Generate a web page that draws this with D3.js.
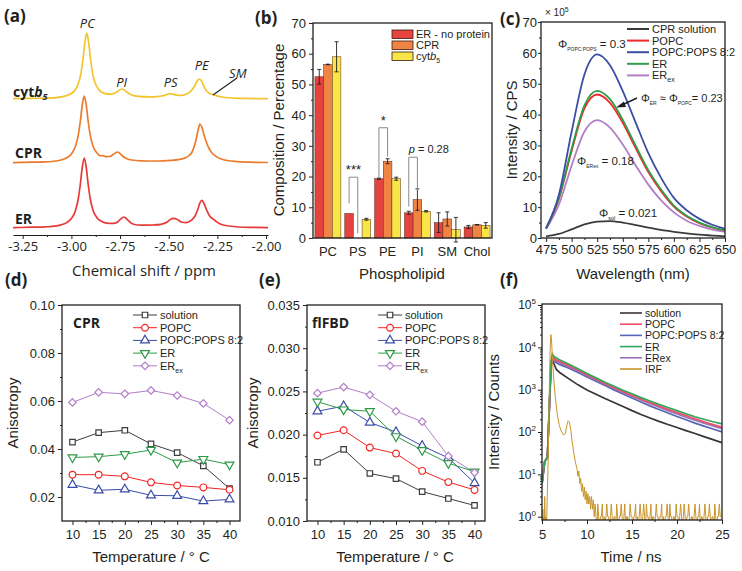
<!DOCTYPE html>
<html><head><meta charset="utf-8">
<script src="https://cdn.jsdelivr.net/npm/d3@7"></script>
<style>body{margin:0;background:#fff}svg{display:block}</style>
</head><body>
<svg id="chart" width="742" height="571"></svg>
<script>
// ---------------- DATA ----------------
// (a) 31P NMR spectra, [ppm, intensity]
const nmrER = [[-3.30,0.4],[-3.20,0.8],[-3.134,1.2],[-3.064,2.7],[-3.024,5.4],[-2.999,9.7],[-2.979,17.5],[-2.964,30],[-2.954,44],[-2.944,61],[-2.934,70],[-2.924,61],[-2.914,44],[-2.904,30],[-2.889,17.8],[-2.869,10.3],[-2.844,6.5],[-2.81,4.6],[-2.785,4.6],[-2.765,5.8],[-2.75,8.3],[-2.73,11],[-2.71,7.9],[-2.69,4.5],[-2.66,3.0],[-2.62,2.8],[-2.58,3.0],[-2.54,3.7],[-2.51,5.7],[-2.49,8.8],[-2.474,9.6],[-2.455,8.4],[-2.435,6.0],[-2.41,5.4],[-2.385,7.6],[-2.365,12],[-2.35,19],[-2.34,25],[-2.33,27.6],[-2.32,25],[-2.305,17.8],[-2.29,12],[-2.27,8.6],[-2.25,5.6],[-2.225,3.2],[-2.19,2.0],[-2.14,1.0],[-2.07,0.6],[-1.99,0.4]];
const nmrCPR = [[-3.30,0.4],[-3.20,0.8],[-3.134,1.1],[-3.064,2.5],[-3.024,5.2],[-2.999,9.2],[-2.979,16.8],[-2.964,28.7],[-2.954,42],[-2.944,58.4],[-2.934,67],[-2.924,58.4],[-2.914,42],[-2.904,28.7],[-2.889,17],[-2.869,10],[-2.85,7.2],[-2.836,7.3],[-2.822,6.3],[-2.805,6.5],[-2.785,8.5],[-2.772,10.3],[-2.764,11],[-2.752,9.8],[-2.735,6.5],[-2.715,4.3],[-2.69,3.0],[-2.64,2.2],[-2.58,2.0],[-2.53,2.2],[-2.49,2.6],[-2.45,3.4],[-2.42,4.8],[-2.395,7.5],[-2.38,11],[-2.37,16],[-2.36,23],[-2.35,32],[-2.34,39],[-2.33,36],[-2.32,29],[-2.305,20],[-2.29,13.5],[-2.275,9.5],[-2.255,6.4],[-2.23,4],[-2.2,2.5],[-2.15,1.4],[-2.08,0.8],[-1.99,0.5]];
const nmrCytb5 = [[-3.30,0.3],[-3.20,0.7],[-3.121,0.9],[-3.051,2.2],[-3.011,4.4],[-2.986,7.9],[-2.966,14.5],[-2.951,25.7],[-2.941,39],[-2.931,56],[-2.921,66],[-2.911,56],[-2.901,39],[-2.891,25.7],[-2.876,15],[-2.856,8.6],[-2.83,5.6],[-2.805,4.8],[-2.785,5.4],[-2.765,7.3],[-2.75,9.3],[-2.739,10],[-2.727,8.9],[-2.71,6.2],[-2.69,4],[-2.655,2.6],[-2.6,2.1],[-2.56,2.3],[-2.53,3.2],[-2.51,4.5],[-2.495,5.3],[-2.48,4.9],[-2.46,3.9],[-2.435,3.6],[-2.405,5.3],[-2.385,8.2],[-2.37,12],[-2.357,17],[-2.342,20],[-2.33,17.5],[-2.318,12],[-2.305,8],[-2.29,5.6],[-2.275,4.5],[-2.26,3.6],[-2.24,2.5],[-2.21,1.5],[-2.16,0.9],[-2.1,0.6],[-2.04,0.4],[-1.99,0.3]];
const nmrNames = ["ER","CPR","cytb5"];
const nmrStackOffsets = [7, 72, 136];
const nmrTicks = [-3.25,-3.00,-2.75,-2.50,-2.25,-2.00];
const nmrMinorTicks = [-3.125,-2.875,-2.625,-2.375,-2.125];

// (b) lipid composition (%)
const lipidCats = ["PC","PS","PE","PI","SM","Chol"];
const lipidSeries = ["ER - no protein","CPR","cytb5"];
const lipidER  = [52.5, 8.0, 19.3, 8.2, 5.0, 3.6];
const lipidCPR = [56.5, 0.0, 25.0, 12.5, 6.2, 4.3];
const lipidCyt = [59.0, 6.1, 19.3, 8.7, 2.7, 4.1];
const lipidErrER  = [2.4, 0, 0.2, 0.5, 3.2, 0.5];
const lipidErrCPR = [0.1, 0, 0.8, 3.5, 2.3, 0.1];
const lipidErrCyt = [4.9, 0.3, 0.5, 0.2, 4.0, 0.9];
const lipidTicks = [0,10,20,30,40,50,60,70];
// significance brackets: category, top level, left/right leg ends, label
const sigCats = ["PS","PE","PI"];
const sigTop = [19.8, 35.9, 26.3];
const sigLeftEnd = [11.3, 19.4, 10.2];
const sigRightEnd = [1.5, 26.5, 15.6];
const sigLabels = ["***","*","p = 0.28"];

// (c) emission spectra (x 10^5 CPS)
const wavelengths = [475,487.5,500,512.5,525,537.5,550,562.5,575,587.5,600,612.5,625,637.5,650];
const emSolution = [0.5,1.3,2.8,4.4,5.3,5.5,5.0,4.2,3.4,2.6,2.0,1.5,1.1,0.8,0.5];
const emPOPC     = [3.2,12.7,28.3,42.0,46.5,43.8,37.3,29.2,21.4,15.2,10.2,7.0,4.8,3.4,2.4];
const emPOPS     = [3.0,14.0,34.5,53.0,59.5,56.0,47.6,37.5,27.5,19.5,13.0,9.0,6.2,4.3,3.0];
const emER       = [3.2,13.0,29.0,43.0,47.7,45.0,38.3,30.0,22.0,15.7,10.5,7.2,5.0,3.5,2.5];
const emERex     = [3.0,10.8,23.5,34.5,38.2,35.8,30.3,23.6,17.3,12.2,8.3,5.6,3.9,2.7,2.0];
const emNames = ["CPR solution","POPC","POPC:POPS 8:2","ER","ERex"];
const emTicksX = [475,500,525,550,575,600,625,650];
const emTicksY = [0,10,20,30,40,50,60,70];

// (d) CPR anisotropy, (e) flFBD anisotropy
const temps = [10,15,20,25,30,35,40];
const cprSolution = [0.0429,0.0468,0.0478,0.0421,0.0385,0.0330,0.0235];
const cprPOPC     = [0.0293,0.0293,0.0286,0.0261,0.0248,0.0240,0.0230];
const cprPOPS     = [0.0251,0.0228,0.0232,0.0207,0.0205,0.0183,0.0190];
const cprER       = [0.0365,0.0368,0.0378,0.0396,0.0343,0.0358,0.0335];
const cprERex     = [0.0594,0.0636,0.0630,0.0644,0.0623,0.0590,0.0520];
const fbdSolution = [0.0168,0.0183,0.0155,0.0149,0.0134,0.0126,0.0118];
const fbdPOPC     = [0.0199,0.0205,0.0185,0.0178,0.0158,0.0145,0.0136];
const fbdPOPS     = [0.0227,0.0233,0.0214,0.0203,0.0187,0.0173,0.0144];
const fbdER       = [0.0238,0.0229,0.0227,0.0198,0.0182,0.0167,0.0157];
const fbdERex     = [0.0248,0.0255,0.0246,0.0227,0.0215,0.0175,0.0156];
const anisoNames = ["solution","POPC","POPC:POPS 8:2","ER","ERex"];
const tempTicks = [10,15,20,25,30,35,40];
const cprTicksY = [0.02,0.04,0.06,0.08,0.10];
const fbdTicksY = [0.010,0.015,0.020,0.025,0.030,0.035];

// (f) fluorescence decays (counts)
const decayTime = [5.0,5.3,5.6,5.85,6.0,6.15,6.3,6.6,7,8,9,10,11,12,13,14,15,16,17,18,19,20,21,22,23,24,25];
const decSolution = [6,20,25,600,3500,6000,4200,3000,2500,1800,1300,980,780,620,500,400,320,260,215,178,150,128,108,92,78,66,56];
const decPOPC     = [6,20,25,650,4000,6000,5500,5000,4600,3700,2900,2250,1780,1400,1120,900,735,600,495,410,345,290,245,205,175,150,130];
const decPOPS     = [6,20,25,500,3500,5000,4700,4300,3900,3200,2550,2000,1580,1250,990,790,635,510,415,340,280,232,195,162,138,118,100];
const decER       = [6,20,25,700,4500,7000,6200,5600,5000,4000,3100,2400,1900,1500,1200,970,800,650,540,450,380,320,270,230,200,175,155];
const decERex     = [6,20,25,600,3800,5500,5100,4700,4300,3500,2750,2150,1700,1350,1070,860,700,570,470,385,320,268,225,190,162,140,120];
const irfTime = [5.0,5.05,5.1,5.15,5.2,5.25,5.3,5.35,5.4,5.45,5.5,5.55,5.6,5.7,5.8,5.9,5.98,6.05,6.15,6.3,6.5,6.7,6.9,7.1,7.3,7.45,7.6,7.75,7.9,8.05,8.2,8.35,8.5,8.7,8.9,9.0,9.1,9.2,9.3,9.4,9.5,9.6,9.7,9.8,9.9,10.0,10.1,10.2,10.3,10.4,10.5,10.6,10.7,10.8,10.9];
const irfCounts = [1,0.5,1.5,0.5,1,0.5,3,1,0.5,1,0.5,1.5,4,30,700,8000,20000,16000,6000,1800,600,260,150,110,90,85,95,140,185,170,110,60,35,20,13,9,12,6,8,4,6,3,5,2.5,4,2,3.5,2,3,1.5,3,1.5,2.5,1,2];
const irfTailStart = 11.0, irfTailChannel = 0.1;
const irfTailCounts = [1,0.5,2,1,0.5,1,1,2,0.5,1, 0.5,1,2,1,1,0.5,1,2,1,0.5, 1,1,0.5,2,1,0.5,1,1,2,1, 0.5,1,2,0.5,1,1,0.5,1,2,1, 1,0.5,1,1,2,0.5,1,0.5,1,2, 1,0.5,1,2,1,0.5,2,1,1,0.5, 1,2,0.5,1,1,0.5,1,2,1,1, 0.5,1,1,2,0.5,1,0.5,1,1,2, 1,0.5,2,1,1,0.5,1,1,0.5,2, 1,1,0.5,1,2,1,0.5,1,2,1, 0.5,1,1,2,1,0.5,1,1,0.5,1, 2,1,0.5,1,1,2,0.5,1,1,0.5, 1,2,1,0.5,1,1,2,1,0.5,1, 1,0.5,2,1,0.5,1,1,2,1,1];
const decayNames = ["solution","POPC","POPC:POPS 8:2","ER","ERex","IRF"];
const decayTicksX = [5,10,15,20,25];
const decayTicksY = [1,10,100,1000,10000,100000];

// ---------------- DRAWING ----------------
const svg = d3.select("#chart");
const F = "'Liberation Sans', Arial, sans-serif";
const FO = "'Open Sans', 'Liberation Sans', sans-serif";
const INK = "#231f20";

function styleAxis(sel, fs, font) {
  sel.select(".domain").remove();
  sel.selectAll(".tick line").attr("stroke", INK).attr("stroke-width", 1);
  sel.selectAll(".tick text").attr("font-family", font || F).attr("font-size", fs).attr("fill", INK);
}
function frame(g, x0, y0, x1, y1) {
  g.append("rect").attr("x", x0).attr("y", y0).attr("width", x1 - x0).attr("height", y1 - y0)
    .attr("fill", "none").attr("stroke", INK).attr("stroke-width", 1.3);
}
function label(g, x, y, txt, o = {}) {
  const t = g.append("text").attr("x", x).attr("y", y).text(txt)
    .attr("font-family", o.font || F).attr("font-size", o.size || 13).attr("fill", o.fill || INK)
    .attr("text-anchor", o.anchor || "start");
  if (o.weight) t.attr("font-weight", o.weight);
  if (o.style) t.attr("font-style", o.style);
  if (o.rotate) t.attr("transform", `rotate(${o.rotate},${x},${y})`);
  return t;
}
function panelLabel(x, y, s) { label(svg, x, y, s, {font: FO, size: 17, weight: "bold"}); }
function clip(id, x0, y0, x1, y1) {
  svg.append("clipPath").attr("id", id).append("rect").attr("x", x0).attr("y", y0).attr("width", x1 - x0).attr("height", y1 - y0);
}

// ===== (a) =====
const gA = svg.append("g");
const xA = d3.scaleLinear().domain([-3.30, -1.99]).range([13, 268]);
const yA = d3.scaleLinear().domain([0, 230]).range([235, 5]);
const nmrColors = ["#e63b3a", "#eb7c2e", "#f3c42c"];
[nmrER, nmrCPR, nmrCytb5].forEach((arr, i) => {
  const off = nmrStackOffsets[i];
  gA.append("path").datum(arr).attr("fill", "none").attr("stroke", nmrColors[i]).attr("stroke-width", 1.7)
    .attr("d", d3.line().x(d => xA(d[0])).y(d => yA(d[1] + off)).curve(d3.curveMonotoneX));
});
const axA = gA.append("g").attr("transform", "translate(0,235)")
  .call(d3.axisBottom(xA).tickValues(nmrTicks).tickFormat(d => d.toFixed(2)).tickSize(4).tickSizeOuter(0).tickPadding(3));
axA.select(".domain").attr("stroke", INK).attr("stroke-width", 1.2);
axA.selectAll(".tick line").attr("stroke", INK);
axA.selectAll(".tick text").attr("font-family", FO).attr("font-size", 13).attr("fill", INK);
gA.append("g").attr("transform", "translate(0,235)")
  .call(d3.axisBottom(xA).tickValues(nmrMinorTicks).tickFormat("").tickSize(2).tickSizeOuter(0))
  .call(s => { s.select(".domain").remove(); s.selectAll("line").attr("stroke", INK); });
label(gA, 144, 276, "Chemical shift / ppm", {font: FO, size: 15, anchor: "middle"});
// trace names
const cyt = label(gA, 13, 97, "cyt", {font: FO, size: 14, weight: "bold"});
cyt.append("tspan").attr("font-style", "italic").text("b");
cyt.append("tspan").attr("font-style", "italic").attr("font-size", 9).attr("dy", 3).text("5");
label(gA, 15, 158, "CPR", {font: FO, size: 14, weight: "bold"});
label(gA, 15, 224, "ER", {font: FO, size: 14, weight: "bold"});
// peak labels
[["PC", -2.918, 207], ["PI", -2.742, 148], ["PS", -2.49, 148], ["PE", -2.33, 165], ["SM", -2.145, 157]].forEach(p => {
  label(gA, xA(p[1]), yA(p[2]), p[0], {font: FO, size: 13, style: "italic", anchor: "middle"});
});
gA.append("line").attr("x1", 213).attr("y1", 95).attr("x2", 237).attr("y2", 78).attr("stroke", INK).attr("stroke-width", 1.1);
panelLabel(4, 22, "(a)");

// ===== (b) =====
const gB = svg.append("g");
const xB = d3.scaleBand().domain(lipidCats).range([313, 492]).paddingInner(0.13).paddingOuter(0.065);
const xBs = d3.scaleBand().domain([0, 1, 2]).range([0, xB.bandwidth()]);
const yB = d3.scaleLinear().domain([0, 70]).range([238, 23]);
const lipidColors = ["#e5433f", "#ef8444", "#f8e548"];
const lipidVals = [lipidER, lipidCPR, lipidCyt];
const lipidErrs = [lipidErrER, lipidErrCPR, lipidErrCyt];
lipidVals.forEach((vals, s) => {
  lipidCats.forEach((c, i) => {
    if (vals[i] <= 0) return;
    gB.append("rect").attr("x", xB(c) + xBs(s)).attr("y", yB(vals[i])).attr("width", xBs.bandwidth())
      .attr("height", yB(0) - yB(vals[i])).attr("fill", lipidColors[s]).attr("stroke", "#5a2a1a").attr("stroke-width", 0.5);
  });
});
lipidVals.forEach((vals, s) => {
  lipidCats.forEach((c, i) => {
    const e = lipidErrs[s][i];
    if (vals[i] <= 0 || e <= 0) return;
    const cx = xB(c) + xBs(s) + xBs.bandwidth() / 2;
    const g = gB.append("g").attr("stroke", INK).attr("stroke-width", 0.9);
    g.append("line").attr("x1", cx).attr("x2", cx).attr("y1", yB(vals[i] - e)).attr("y2", yB(vals[i] + e));
    g.append("line").attr("x1", cx - 2).attr("x2", cx + 2).attr("y1", yB(vals[i] - e)).attr("y2", yB(vals[i] - e));
    g.append("line").attr("x1", cx - 2).attr("x2", cx + 2).attr("y1", yB(vals[i] + e)).attr("y2", yB(vals[i] + e));
  });
});
sigCats.forEach((c, k) => {
  const xl = xB(c) + xBs(0) + xBs.bandwidth() / 2;
  const xr = xB(c) + xBs(1) + xBs.bandwidth() / 2;
  gB.append("path").attr("fill", "none").attr("stroke", "#8a8a8a").attr("stroke-width", 1)
    .attr("d", `M${xl},${yB(sigLeftEnd[k])}V${yB(sigTop[k])}H${xr}V${yB(sigRightEnd[k])}`);
  if (k < 2) {
    label(gB, (xl + xr) / 2, yB(sigTop[k]) - 3, sigLabels[k], {size: 13, anchor: "middle"});
  } else {
    const t = label(gB, xl, yB(sigTop[k]) - 4, "", {size: 11});
    t.append("tspan").attr("font-style", "italic").text("p");
    t.append("tspan").text(" = 0.28");
  }
});
frame(gB, 313, 23, 492, 238);
gB.append("g").attr("transform", "translate(313,0)").call(d3.axisLeft(yB).tickValues(lipidTicks).tickSize(4).tickPadding(3)).call(s => styleAxis(s, 13));
gB.append("g").attr("transform", "translate(313,0)").call(d3.axisLeft(yB).tickValues([5,15,25,35,45,55,65]).tickFormat("").tickSize(2)).call(s => styleAxis(s, 13));
gB.append("g").attr("transform", "translate(0,238)").call(d3.axisBottom(xB).tickSize(0).tickPadding(9)).call(s => styleAxis(s, 13));
label(gB, 284, 130, "Composition / Percentage", {size: 15, anchor: "middle", rotate: -90});
label(gB, 402, 279, "Phospholipid", {size: 15, anchor: "middle"});
lipidSeries.forEach((n, s) => {
  const y = 30 + s * 11;
  gB.append("rect").attr("x", 392).attr("y", y).attr("width", 21).attr("height", 8.5).attr("fill", lipidColors[s]).attr("stroke", "#3a1a10").attr("stroke-width", 0.8);
  if (n === "cytb5") {
    const t = label(gB, 416, y + 8, "cyt", {size: 11});
    t.append("tspan").attr("font-style", "italic").text("b");
    t.append("tspan").attr("font-size", 7).attr("dy", 2.5).text("5");
  } else label(gB, 416, y + 8, n, {size: 11});
});
panelLabel(255, 24, "(b)");

// ===== (c) =====
const gC = svg.append("g");
clip("clipC", 541, 22, 725, 238);
const xC = d3.scaleLinear().domain([470, 650]).range([541, 725]);
const yC = d3.scaleLinear().domain([0, 70]).range([238, 22]);
const emColors = ["#3b3b3b", "#f02a2a", "#3a4fa3", "#2f9d4a", "#b07fc7"];
const emSeries = [emSolution, emPOPC, emPOPS, emER, emERex];
const lineC = d3.line().x((d, i) => xC(wavelengths[i])).y(d => yC(d)).curve(d3.curveMonotoneX);
[0, 4, 1, 3, 2].forEach(i => {
  gC.append("path").datum(emSeries[i]).attr("clip-path", "url(#clipC)").attr("fill", "none")
    .attr("stroke", emColors[i]).attr("stroke-width", 1.8).attr("d", lineC);
});
frame(gC, 541, 22, 725, 238);
gC.append("g").attr("transform", "translate(541,0)").call(d3.axisLeft(yC).tickValues(emTicksY).tickSize(3).tickPadding(1)).call(s => styleAxis(s, 13));
gC.append("g").attr("transform", "translate(541,0)").call(d3.axisLeft(yC).tickValues([5,15,25,35,45,55,65]).tickFormat("").tickSize(2)).call(s => styleAxis(s, 13));
gC.append("g").attr("transform", "translate(0,238)").call(d3.axisBottom(xC).tickValues(emTicksX).tickSize(4).tickPadding(3)).call(s => styleAxis(s, 13));
gC.append("g").attr("transform", "translate(0,238)").call(d3.axisBottom(xC).tickValues([487.5,512.5,537.5,562.5,587.5,612.5,637.5]).tickFormat("").tickSize(2)).call(s => styleAxis(s, 13));
label(gC, 517, 130, "Intensity / CPS", {size: 15, anchor: "middle", rotate: -90});
label(gC, 633, 279, "Wavelength (nm)", {size: 15, anchor: "middle"});
const mult = label(gC, 545, 16, "× 10", {size: 10});
mult.append("tspan").attr("font-size", 7).attr("dy", -4).text("5");
emNames.forEach((n, i) => {
  const y = 29 + i * 11.6;
  gC.append("line").attr("x1", 627).attr("x2", 649).attr("y1", y).attr("y2", y).attr("stroke", emColors[i]).attr("stroke-width", 2);
  if (n === "ERex") {
    const t = label(gC, 652, y + 4, "ER", {size: 11});
    t.append("tspan").attr("font-size", 7).attr("dy", 3).text("ex");
  } else label(gC, 652, y + 4, n, {size: 11});
});
function phi(g, x, y, parts, fs, ss) {
  const t = label(g, x, y, "", {size: fs});
  parts.forEach(p => {
    if (p[1] === "sub") t.append("tspan").attr("font-size", ss).attr("dy", 3).text(p[0]);
    else if (p[1] === "up") t.append("tspan").attr("dy", -3).text(p[0]);
    else t.append("tspan").text(p[0]);
  });
}
phi(gC, 558, 48, [["Φ"], ["POPC:POPS", "sub"], [" = 0.3", "up"]], 11.5, 5);
phi(gC, 641, 102, [["Φ"], ["ER", "sub"], [" ≈ Φ", "up"], ["POPC", "sub"], ["= 0.23", "up"]], 11, 5);
phi(gC, 577, 165, [["Φ"], ["ERex", "sub"], [" = 0.18", "up"]], 11.5, 5);
phi(gC, 599, 217, [["Φ"], ["sol", "sub"], [" = 0.021", "up"]], 11.5, 5.5);
gC.append("line").attr("x1", 637).attr("y1", 98).attr("x2", 622).attr("y2", 105).attr("stroke", INK).attr("stroke-width", 1.5);
gC.append("path").attr("d", "M616,107.5 L624,101.5 L626,107 Z").attr("fill", INK);
panelLabel(500, 25, "(c)");

// ===== (d) & (e) =====
const anisoColors = ["#3d3d3d", "#f22424", "#3a4da6", "#2e9a46", "#b27ec9"];
function marker(g, type, x, y, color) {
  let sym, rot = 0, size = 34;
  if (type === 0) { sym = d3.symbolSquare; size = 30; }
  else if (type === 1) { sym = d3.symbolCircle; size = 36; }
  else if (type === 2) { sym = d3.symbolTriangle; size = 34; }
  else if (type === 3) { sym = d3.symbolTriangle; size = 34; rot = 180; }
  else { sym = d3.symbolSquare; size = 28; rot = 45; }
  g.append("path").attr("d", d3.symbol().type(sym).size(size)())
    .attr("transform", `translate(${x},${y}) rotate(${rot})`)
    .attr("fill", "#fff").attr("stroke", color).attr("stroke-width", 1.2);
}
function anisoPanel(x0, x1, domY, ticksY, minorY, series, fmt, tag, titleX, ylabX) {
  const g = svg.append("g");
  const x = d3.scaleLinear().domain([8, 42]).range([x0, x1]);
  const y = d3.scaleLinear().domain(domY).range([521, 305]);
  series.forEach((vals, s) => {
    g.append("path").datum(vals).attr("fill", "none").attr("stroke", anisoColors[s]).attr("stroke-width", 1)
      .attr("d", d3.line().x((d, i) => x(temps[i])).y(d => y(d)));
  });
  series.forEach((vals, s) => vals.forEach((v, i) => marker(g, s, x(temps[i]), y(v), anisoColors[s])));
  frame(g, x0, 305, x1, 521);
  g.append("g").attr("transform", `translate(${x0},0)`).call(d3.axisLeft(y).tickValues(ticksY).tickFormat(fmt).tickSize(4).tickPadding(3)).call(s => styleAxis(s, 13));
  g.append("g").attr("transform", `translate(${x0},0)`).call(d3.axisLeft(y).tickValues(minorY).tickFormat("").tickSize(2)).call(s => styleAxis(s, 13));
  g.append("g").attr("transform", "translate(0,521)").call(d3.axisBottom(x).tickValues(tempTicks).tickSize(4).tickPadding(5)).call(s => styleAxis(s, 13));
  g.append("g").attr("transform", "translate(0,521)").call(d3.axisBottom(x).tickValues([12.5,17.5,22.5,27.5,32.5,37.5]).tickFormat("").tickSize(2)).call(s => styleAxis(s, 13));
  label(g, ylabX, 413, "Anisotropy", {size: 15, anchor: "middle", rotate: -90});
  label(g, titleX, 562, "Temperature / ° C", {size: 15, anchor: "middle"});
  label(g, x0 + tag[1], 328, tag[0], {font: FO, size: 14, weight: "bold"});
  const lx = x0 + 71;
  anisoNames.forEach((n, s) => {
    const yy = 315 + s * 12.7;
    g.append("line").attr("x1", lx).attr("x2", lx + 24).attr("y1", yy).attr("y2", yy).attr("stroke", anisoColors[s]).attr("stroke-width", 1);
    marker(g, s, lx + 12, yy, anisoColors[s]);
    if (n === "ERex") {
      const t = label(g, lx + 27, yy + 4, "ER", {size: 11});
      t.append("tspan").attr("font-size", 7).attr("dy", 3).text("ex");
    } else label(g, lx + 27, yy + 4, n, {size: 11});
  });
}
anisoPanel(62, 240, [0.01, 0.10], cprTicksY, [0.03,0.05,0.07,0.09],
  [cprSolution, cprPOPC, cprPOPS, cprER, cprERex], d3.format(".2f"), ["CPR", 11], 151, 18);
anisoPanel(307, 485, [0.010, 0.035], fbdTicksY, [0.0125,0.0175,0.0225,0.0275,0.0325],
  [fbdSolution, fbdPOPC, fbdPOPS, fbdER, fbdERex], d3.format(".3f"), ["flFBD", 5], 395, 258);
panelLabel(5, 286, "(d)");
panelLabel(259, 286, "(e)");

// ===== (f) =====
const gF = svg.append("g");
clip("clipF", 542, 304, 722, 520);
const xF = d3.scaleLinear().domain([5, 25]).range([542, 722]);
const yF = d3.scaleLog().domain([0.835, 1e5]).range([520, 305]);
const decColors = ["#3a3433", "#f24d68", "#5566b5", "#33a65c", "#9b72b3", "#c9952c"];
const decSeries = [decSolution, decPOPS, decERex, decPOPC, decER];
const decIdx = [0, 2, 4, 1, 3];
const lineF = d3.line().x((d, i) => xF(decayTime[i])).y(d => yF(d));
decSeries.forEach((vals, k) => {
  gF.append("path").datum(vals).attr("clip-path", "url(#clipF)").attr("fill", "none")
    .attr("stroke", decColors[decIdx[k]]).attr("stroke-width", 1.7).attr("d", lineF);
});
const irfPts = irfTime.map((t, i) => [t, irfCounts[i]])
  .concat(irfTailCounts.map((c, i) => [irfTailStart + i * irfTailChannel, c]));
gF.append("path").datum(irfPts).attr("clip-path", "url(#clipF)").attr("fill", "none")
  .attr("stroke", decColors[5]).attr("stroke-width", 1).attr("d", d3.line().x(d => xF(d[0])).y(d => yF(d[1])));
frame(gF, 542, 304, 722, 520);
const axFy = gF.append("g").attr("transform", "translate(542,0)").call(d3.axisLeft(yF).tickValues(decayTicksY).tickSize(4).tickPadding(2)).call(s => styleAxis(s, 12));
axFy.selectAll(".tick text").each(function(d) {
  const t = d3.select(this); t.text("");
  t.append("tspan").text("10");
  t.append("tspan").attr("font-size", 8).attr("dy", -5).text(Math.round(Math.log10(d)));
});
const minorLog = [];
[1, 10, 100, 1000, 10000].forEach(b => { for (let m = 2; m <= 9; m++) minorLog.push(b * m); });
gF.append("g").attr("transform", "translate(542,0)").call(d3.axisLeft(yF).tickValues(minorLog).tickFormat("").tickSize(2)).call(s => styleAxis(s, 12));
gF.append("g").attr("transform", "translate(0,520)").call(d3.axisBottom(xF).tickValues(decayTicksX).tickSize(4).tickPadding(6)).call(s => styleAxis(s, 13));
gF.append("g").attr("transform", "translate(0,520)").call(d3.axisBottom(xF).tickValues([7.5,12.5,17.5,22.5]).tickFormat("").tickSize(2)).call(s => styleAxis(s, 13));
label(gF, 499, 412, "Intensity / Counts", {size: 15, anchor: "middle", rotate: -90});
label(gF, 631, 562, "Time / ns", {size: 15, anchor: "middle"});
decayNames.forEach((n, i) => {
  const y = 313 + i * 11.2;
  gF.append("line").attr("x1", 620).attr("x2", 642).attr("y1", y).attr("y2", y).attr("stroke", decColors[i]).attr("stroke-width", 1.6);
  label(gF, 645, y + 4, n, {size: 10.5});
});
panelLabel(500, 286, "(f)");
</script>
</body></html>
